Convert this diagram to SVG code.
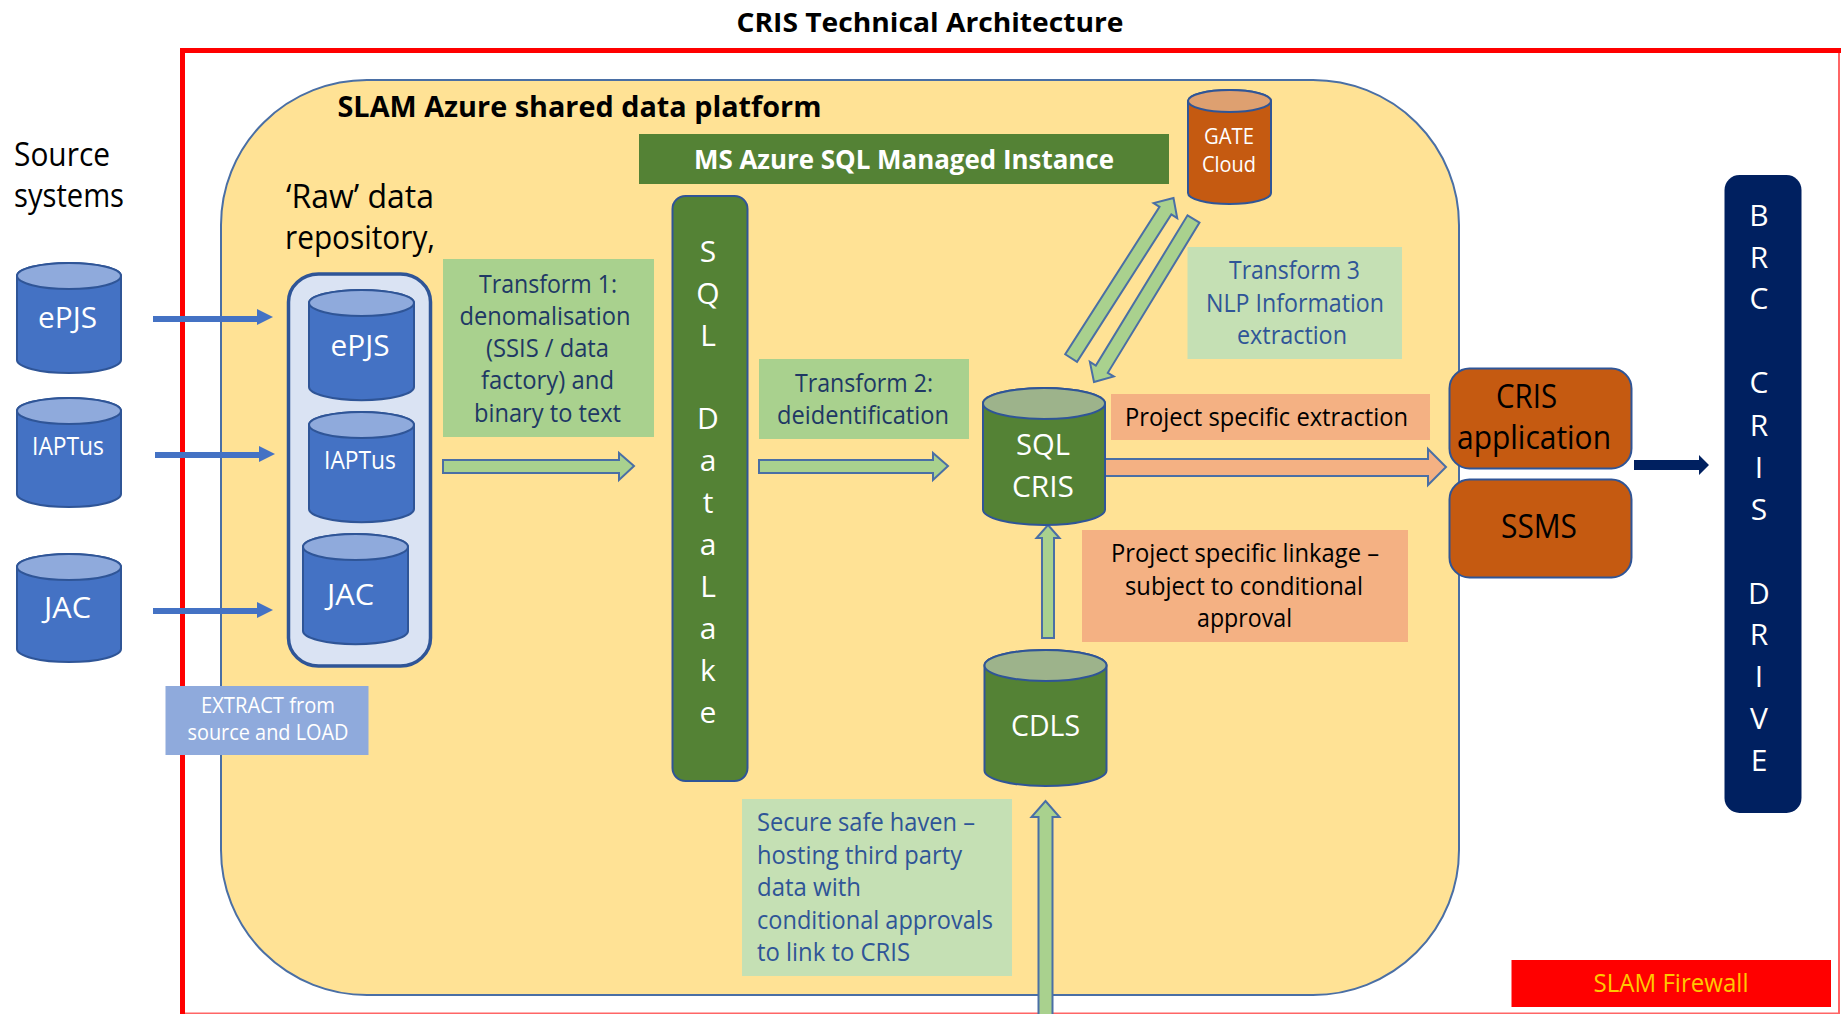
<svg xmlns="http://www.w3.org/2000/svg" width="1841" height="1014" viewBox="0 0 1841 1014">
<style>
text{font-family:"Open Sans","Noto Sans","Liberation Sans",sans-serif;text-anchor:middle;fill:#000}
.w{fill:#fff}.b{fill:#2f5597}.n{fill:#203864}.l{text-anchor:start}.bd{font-weight:700}
.s23{font-size:25px}.s28{font-size:30px}.s30{font-size:32px}.s20{font-size:21px}
.blu{fill:#4472c4;stroke:#2f5597;stroke-width:2}.blt{fill:#8faadc;stroke:#2f5597;stroke-width:2}
.grn{fill:#548235;stroke:#2f5597;stroke-width:2}.grt{fill:#9db38b;stroke:#2f5597;stroke-width:2}
.org{fill:#c55a11;stroke:#2f5597;stroke-width:2}.ort{fill:#dea070;stroke:#2f5597;stroke-width:2}
.ga{fill:#a9d18e;stroke:#4a6fa5;stroke-width:2}.oa{fill:#f4b183;stroke:#4a6fa5;stroke-width:2}
.ba{fill:#4472c4}.da{fill:#002060}
.cl{fill:#a9d18e}.cp{fill:#c5e0b4}.co{fill:#f4b183}
</style>
<rect width="1841" height="1014" fill="#fff"/>
<g id="firewall-frame" fill="none" stroke="#ff0000">
<path d="M182.500 1014V50.500H1841" stroke-width="5"/>
<path d="M1839 50V1013.500H184" stroke-width="2" stroke-opacity=".6"/>
</g>
<g transform="translate(0 1)">
<g id="title"><text x="930" y="31" class="bd" font-size="27" textLength="387" lengthAdjust="spacingAndGlyphs">CRIS Technical Architecture</text></g>
<g id="platform">
<rect x="221" y="79" width="1238" height="915" rx="146" ry="145" fill="#ffe295" stroke="#4a6fa5" stroke-width="2"/>
<text x="579.500" y="116" class="bd" font-size="29" textLength="484" lengthAdjust="spacingAndGlyphs">SLAM Azure shared data platform</text>
</g>
<g id="managed-instance">
<rect x="639" y="133" width="530" height="50" fill="#548235"/>
<text x="904" y="168" class="w bd" font-size="27" textLength="420" lengthAdjust="spacingAndGlyphs">MS Azure SQL Managed Instance</text>
</g>
<g id="source-label">
<text x="62" y="165" class="s30" textLength="96" lengthAdjust="spacingAndGlyphs">Source</text>
<text x="69" y="206" class="s30" textLength="110" lengthAdjust="spacingAndGlyphs">systems</text>
</g>
<g id="raw-label">
<text x="360" y="207" class="s30" textLength="148" lengthAdjust="spacingAndGlyphs">‘Raw’ data</text>
<text x="360" y="248" class="s30" textLength="150" lengthAdjust="spacingAndGlyphs">repository,</text>
</g>
<g id="src-epjs">
<path class="blu" d="M17 275A52 13 0 0 1 121 275V359A52 13 0 0 1 17 359Z"/><ellipse class="blt" cx="69" cy="275" rx="52" ry="13"/>
<text x="67.500" y="327" class="w s28" textLength="59" lengthAdjust="spacingAndGlyphs">ePJS</text>
</g>
<g id="src-iaptus">
<path class="blu" d="M17 410A52 13 0 0 1 121 410V493A52 13 0 0 1 17 493Z"/><ellipse class="blt" cx="69" cy="410" rx="52" ry="13"/>
<text x="68" y="454" class="w s23" textLength="72" lengthAdjust="spacingAndGlyphs">IAPTus</text>
</g>
<g id="src-jac">
<path class="blu" d="M17 566A52 13 0 0 1 121 566V648A52 13 0 0 1 17 648Z"/><ellipse class="blt" cx="69" cy="566" rx="52" ry="13"/>
<text x="67.500" y="617" class="w s28" textLength="47" lengthAdjust="spacingAndGlyphs">JAC</text>
</g>
<g id="raw-repository">
<rect x="288.500" y="273" width="142" height="392" rx="30" ry="28" fill="#dae3f3" stroke="#2f5597" stroke-width="3.500"/>
</g>
<g id="raw-epjs">
<path class="blu" d="M309 302A52 13 0 0 1 414 302V386A52 13 0 0 1 309 386Z"/><ellipse class="blt" cx="361.500" cy="302" rx="52.500" ry="13"/>
<text x="360" y="355" class="w s28" textLength="59" lengthAdjust="spacingAndGlyphs">ePJS</text>
</g>
<g id="raw-iaptus">
<path class="blu" d="M309 424A52 13 0 0 1 414 424V508A52 13 0 0 1 309 508Z"/><ellipse class="blt" cx="361.500" cy="424" rx="52.500" ry="13"/>
<text x="360" y="468" class="w s23" textLength="72" lengthAdjust="spacingAndGlyphs">IAPTus</text>
</g>
<g id="raw-jac">
<path class="blu" d="M303 546A52 13 0 0 1 408 546V630A52 13 0 0 1 303 630Z"/><ellipse class="blt" cx="355.500" cy="546" rx="52.500" ry="13"/>
<text x="350.500" y="604" class="w s28" textLength="47" lengthAdjust="spacingAndGlyphs">JAC</text>
</g>
<g id="label-extract">
<rect x="165.500" y="685" width="203" height="69" fill="#8faadc"/>
<text x="268" y="712" class="w s20" textLength="134" lengthAdjust="spacingAndGlyphs">EXTRACT from</text>
<text x="268" y="739" class="w s20" textLength="161" lengthAdjust="spacingAndGlyphs">source and LOAD</text>
</g>
<g id="label-transform1">
<rect class="cl" x="443" y="258" width="211" height="178"/>
<text x="548" y="292" class="n s23" textLength="138" lengthAdjust="spacingAndGlyphs">Transform 1:</text>
<text x="545" y="324" class="n s23" textLength="171" lengthAdjust="spacingAndGlyphs">denomalisation</text>
<text x="547.500" y="356" class="n s23" textLength="123" lengthAdjust="spacingAndGlyphs">(SSIS / data</text>
<text x="547.500" y="388" class="n s23" textLength="133" lengthAdjust="spacingAndGlyphs">factory) and</text>
<text x="547.500" y="421" class="n s23" textLength="147" lengthAdjust="spacingAndGlyphs">binary to text</text>
</g>
<g id="sql-datalake">
<rect class="grn" x="672.500" y="195" width="75" height="585" rx="13" ry="13"/>
<text x="708" y="261" class="w s28">S</text><text x="708" y="303" class="w s28">Q</text><text x="708" y="345" class="w s28">L</text>
<text x="708" y="428" class="w s28">D</text><text x="708" y="470" class="w s28">a</text><text x="708" y="512" class="w s28">t</text>
<text x="708" y="554" class="w s28">a</text><text x="708" y="596" class="w s28">L</text><text x="708" y="638" class="w s28">a</text>
<text x="708" y="680" class="w s28">k</text><text x="708" y="722" class="w s28">e</text>
</g>
<g id="label-transform2">
<rect class="cl" x="759" y="358" width="210" height="80"/>
<text x="864" y="391" class="n s23" textLength="138" lengthAdjust="spacingAndGlyphs">Transform 2:</text>
<text x="863" y="423" class="n s23" textLength="172" lengthAdjust="spacingAndGlyphs">deidentification</text>
</g>
<g id="label-transform3">
<rect class="cp" x="1187.500" y="246" width="214.500" height="112"/>
<text x="1294.500" y="278" class="b s23" textLength="131" lengthAdjust="spacingAndGlyphs">Transform 3</text>
<text x="1295" y="311" class="b s23" textLength="178" lengthAdjust="spacingAndGlyphs">NLP Information</text>
<text x="1292" y="343" class="b s23" textLength="110" lengthAdjust="spacingAndGlyphs">extraction</text>
</g>
<g id="label-extraction">
<rect class="co" x="1111" y="393" width="319" height="46"/>
<text x="1266.500" y="425" class="s23" textLength="283" lengthAdjust="spacingAndGlyphs">Project specific extraction</text>
</g>
<g id="label-linkage">
<rect class="co" x="1082" y="529" width="326" height="112"/>
<text x="1245" y="561" class="s23" textLength="268" lengthAdjust="spacingAndGlyphs">Project specific linkage –</text>
<text x="1244" y="594" class="s23" textLength="238" lengthAdjust="spacingAndGlyphs">subject to conditional</text>
<text x="1244.500" y="626" class="s23" textLength="95" lengthAdjust="spacingAndGlyphs">approval</text>
</g>
<g id="label-safe-haven">
<rect class="cp" x="742" y="798" width="270" height="177"/>
<text x="757" y="830" class="b s23 l" textLength="218" lengthAdjust="spacingAndGlyphs">Secure safe haven –</text>
<text x="757" y="863" class="b s23 l" textLength="205" lengthAdjust="spacingAndGlyphs">hosting third party</text>
<text x="757" y="895" class="b s23 l" textLength="104" lengthAdjust="spacingAndGlyphs">data with</text>
<text x="757" y="928" class="b s23 l" textLength="236" lengthAdjust="spacingAndGlyphs">conditional approvals</text>
<text x="757" y="960" class="b s23 l" textLength="153" lengthAdjust="spacingAndGlyphs">to link to CRIS</text>
</g>
<g id="connectors">
<polygon class="ba" points="153,315 257,315 257,308 273,316 257,324 257,321 153,321"/>
<polygon class="ba" points="155,451 259,451 259,445 275,453 259,461 259,457 155,457"/>
<polygon class="ba" points="153,607 257,607 257,601 273,609 257,617 257,613 153,613"/>
<polygon class="ga" points="443,459 619,459 619,452 634,465 619,479 619,472 443,472"/>
<polygon class="ga" points="759,459 933,459 933,452 948,465 933,479 933,472 759,472"/>
<polygon class="oa" points="1105,458 1428,458 1428,448 1446,466 1428,484 1428,475 1105,475"/>
<polygon class="da" points="1634,459 1699,459 1699,454 1709,464 1699,474 1699,469 1634,469"/>
<polygon class="ga" transform="translate(1173.500 197) rotate(-57.400)" points="0,0 -15,-14 -15,-7 -190,-7 -190,7 -15,7 -15,14"/>
<polygon class="ga" transform="translate(1094 381) rotate(121.400)" points="0,0 -15,-14 -15,-7 -191,-7 -191,7 -15,7 -15,14"/>
<polygon class="ga" points="1048,524 1059.500,537 1054,537 1054,637 1042,637 1042,537 1036.500,537"/>
<polygon class="ga" points="1045.500,800 1059.500,816 1052.500,816 1052.500,1016 1038.500,1016 1038.500,816 1031.500,816"/>
</g>
<g id="sql-cris">
<path class="grn" d="M983 402.500A61 15.500 0 0 1 1105 402.500V508.500A61 15.500 0 0 1 983 508.500Z"/><ellipse class="grt" cx="1044" cy="402.500" rx="61" ry="15.500"/>
<text x="1043" y="454" class="w s28" textLength="54" lengthAdjust="spacingAndGlyphs">SQL</text>
<text x="1043" y="496" class="w s28" textLength="62" lengthAdjust="spacingAndGlyphs">CRIS</text>
</g>
<g id="cdls">
<path class="grn" d="M984.500 664.500A61 15.500 0 0 1 1106.500 664.500V769.500A61 15.500 0 0 1 984.500 769.500Z"/><ellipse class="grt" cx="1045.500" cy="664.500" rx="61" ry="15.500"/>
<text x="1045.500" y="735" class="w s28" textLength="69" lengthAdjust="spacingAndGlyphs">CDLS</text>
</g>
<g id="gate-cloud">
<path class="org" d="M1188 100A41.500 11 0 0 1 1271 100V192A41.500 11 0 0 1 1188 192Z"/><ellipse class="ort" cx="1229.500" cy="100" rx="41.500" ry="11"/>
<text x="1229" y="143" class="w" font-size="21" textLength="50" lengthAdjust="spacingAndGlyphs">GATE</text>
<text x="1229" y="171" class="w" font-size="21" textLength="54" lengthAdjust="spacingAndGlyphs">Cloud</text>
</g>
<g id="cris-application">
<rect class="org" x="1449.500" y="367.500" width="182" height="100" rx="20" ry="20"/>
<text x="1526.500" y="407" font-size="32" textLength="61" lengthAdjust="spacingAndGlyphs">CRIS</text>
<text x="1534" y="448" font-size="32" textLength="154" lengthAdjust="spacingAndGlyphs">application</text>
</g>
<g id="ssms">
<rect class="org" x="1449.500" y="478.500" width="182" height="98" rx="20" ry="20"/>
<text x="1539" y="537" class="s30" textLength="76" lengthAdjust="spacingAndGlyphs">SSMS</text>
</g>
<g id="brc-cris-drive">
<rect x="1724.500" y="174" width="77" height="638" rx="15" ry="15" fill="#002060"/>
<text x="1759" y="225" class="w s28">B</text><text x="1759" y="267" class="w s28">R</text><text x="1759" y="308" class="w s28">C</text>
<text x="1759" y="392" class="w s28">C</text><text x="1759" y="435" class="w s28">R</text><text x="1759" y="477" class="w s28">I</text><text x="1759" y="519" class="w s28">S</text>
<text x="1759" y="603" class="w s28">D</text><text x="1759" y="644" class="w s28">R</text><text x="1759" y="686" class="w s28">I</text><text x="1759" y="728" class="w s28">V</text><text x="1759" y="770" class="w s28">E</text>
</g>
<g id="slam-firewall">
<rect x="1511.500" y="959" width="319.500" height="47" fill="#ff0000"/>
<text x="1671" y="991" font-size="25" style="fill:#ffc800" textLength="155" lengthAdjust="spacingAndGlyphs">SLAM Firewall</text>
</g>
</g>
</svg>
